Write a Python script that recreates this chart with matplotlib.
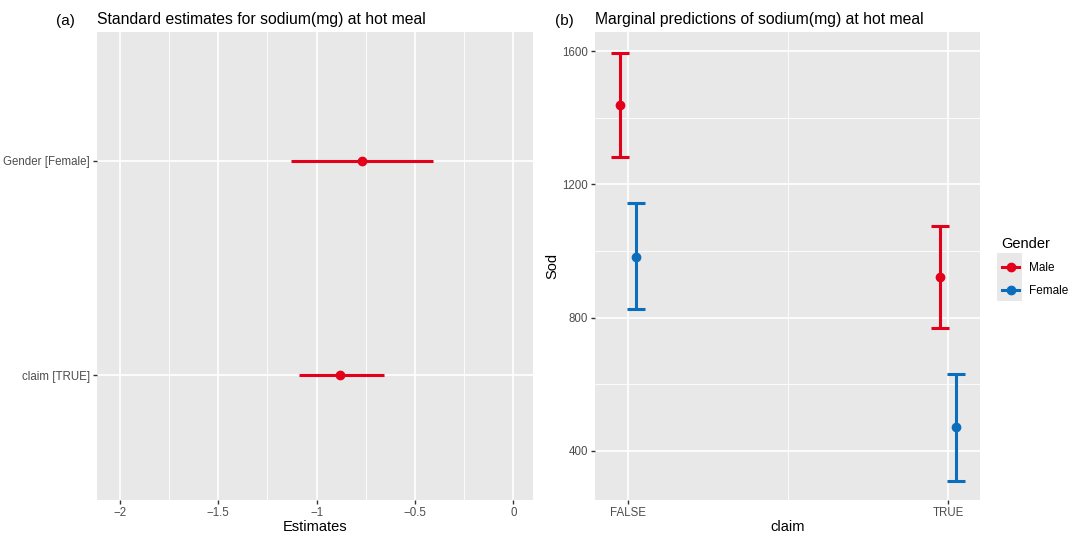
import numpy as np
import matplotlib.pyplot as plt
from matplotlib.lines import Line2D
from matplotlib.patches import Rectangle

plt.rcParams['font.family'] = ['Liberation Sans', 'DejaVu Sans']

# (a) standardised estimates
terms = ['claim [TRUE]', 'Gender [Female]']
est = [-0.88, -0.77]
est_lo = [-1.09, -1.13]
est_hi = [-0.66, -0.41]

# (b) marginal predictions
claim_levels = ['FALSE', 'TRUE']
genders = ['Male', 'Female']
pred = {'Male': [1438, 923], 'Female': [983, 471]}
pred_lo = {'Male': [1283, 768], 'Female': [825, 310]}
pred_hi = {'Male': [1594, 1076], 'Female': [1145, 630]}

RED = '#E3001B'
BLUE = '#0A6EBD'
colors = {'Male': RED, 'Female': BLUE}
BG = '#E8E8E8'
TICKC = '#4D4D4D'


def gg_style(ax):
    ax.set_facecolor(BG)
    for s in ax.spines.values():
        s.set_visible(False)
    ax.grid(True, which='major', color='white', lw=1.2)
    ax.grid(True, which='minor', color='white', lw=0.6)
    ax.set_axisbelow(True)
    ax.tick_params(which='major', length=3, width=1, color='#333333',
                   labelcolor=TICKC, labelsize=8.3, pad=2)
    ax.tick_params(which='minor', length=0)


fig = plt.figure(figsize=(10.73, 5.41), dpi=100)

# ---- panel (a)
ax1 = fig.add_axes([0.0904, 0.0758, 0.4063, 0.865])
gg_style(ax1)
ypos = np.arange(1, len(terms) + 1)
for y, e, lo, hi in zip(ypos, est, est_lo, est_hi):
    ax1.plot([lo, hi], [y, y], color=RED, lw=2.2, solid_capstyle='butt')
    ax1.plot(e, y, 'o', color=RED, ms=6)
ax1.set_xlim(-2.117, 0.10)
ax1.set_ylim(0.42, 2.6)
ax1.set_xticks([-2, -1.5, -1, -0.5, 0])
ax1.set_xticklabels(['\u22122', '\u22121.5', '\u22121', '\u22120.5', '0'])
ax1.set_xticks(np.arange(-2, 0.01, 0.25), minor=True)
ax1.set_yticks(ypos)
ax1.set_yticklabels(terms)
ax1.set_xlabel('Estimates', fontsize=10.5, labelpad=1)
ax1.set_title('Standard estimates for sodium(mg) at hot meal', fontsize=11.3,
              loc='left', pad=6)
fig.text(0.052, 0.962, '(a)', fontsize=11, va='center')

# ---- panel (b)
ax2 = fig.add_axes([0.5545, 0.0758, 0.3588, 0.865])
gg_style(ax2)
xpos = np.arange(1, len(claim_levels) + 1)
dodge = {'Male': -0.024, 'Female': 0.024}
for g in genders:
    x = xpos + dodge[g]
    y = np.array(pred[g])
    err = [y - np.array(pred_lo[g]), np.array(pred_hi[g]) - y]
    ax2.errorbar(x, y, yerr=err, fmt='o', color=colors[g], ms=6,
                 elinewidth=2.2, capsize=6.5, capthick=2.2)
ax2.set_xlim(0.897, 2.1)
ax2.set_ylim(253, 1657)
ax2.set_xticks(xpos)
ax2.set_xticklabels(claim_levels)
ax2.set_xticks([1.5], minor=True)
ax2.set_yticks([400, 800, 1200, 1600])
ax2.set_yticks([600, 1000, 1400], minor=True)
ax2.set_xlabel('claim', fontsize=10.5, labelpad=1)
ax2.set_ylabel('Sod', fontsize=10.5, labelpad=2)
ax2.set_title('Marginal predictions of sodium(mg) at hot meal', fontsize=11.3,
              loc='left', pad=6)
fig.text(0.517, 0.962, '(b)', fontsize=11, va='center')

# legend with grey key background, like ggplot
fig.patches.append(Rectangle((0.929, 0.444), 0.0233, 0.088, transform=fig.transFigure,
                             facecolor=BG, edgecolor='none', zorder=-1))
handles = [Line2D([], [], color=colors[g], lw=2.2, marker='o', ms=6) for g in genders]
leg = ax2.legend(handles=handles, labels=genders, title='Gender',
                 loc='upper left', bbox_to_anchor=(1.035, 0.58), frameon=False,
                 fontsize=8.5, title_fontsize=10.5, handlelength=1.5,
                 handletextpad=0.8, labelspacing=0.95, borderpad=0.2)
leg._legend_box.align = 'left'

fig.savefig('out.png', dpi=100)
